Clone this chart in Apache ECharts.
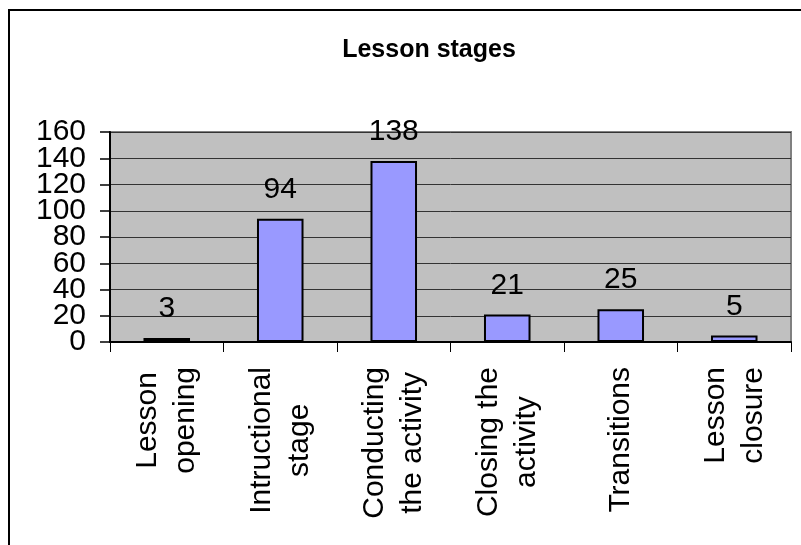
<!DOCTYPE html>
<html>
<head>
<meta charset="utf-8">
<script src="https://cdn.jsdelivr.net/npm/echarts@6/dist/echarts.min.js"></script>
<style>
html,body{margin:0;padding:0;background:#fff;}
#chart{width:801px;height:545px;}
</style>
</head>
<body>
<div id="chart"></div>
<script>
const titleText = 'Lesson stages';
const categories = ['Lesson\nopening', 'Intructional\nstage', 'Conducting\nthe activity', 'Closing the\nactivity', 'Transitions', 'Lesson\nclosure'];
const values = [3, 94, 138, 21, 25, 5];
const yMin = 0, yMax = 160, yStep = 20;

const FONT = 'Liberation Sans, Arial, sans-serif';
const PLOT = {left: 110, top: 132, right: 10, bottom: 203};
const STEP_PX = (545 - PLOT.top - PLOT.bottom) / ((yMax - yMin) / yStep);

const chart = echarts.init(document.getElementById('chart'), null, {renderer: 'canvas'});
chart.setOption({
  animation: false,
  backgroundColor: '#fff',
  title: {
    text: titleText,
    left: 424,
    top: 33,
    textAlign: 'center',
    textStyle: {fontFamily: FONT, fontSize: 25, fontWeight: 'bold', color: '#000'}
  },
  graphic: [{
    type: 'rect',
    shape: {x: 9, y: 10, width: 820, height: 560},
    style: {fill: 'none', stroke: '#000', lineWidth: 2},
    silent: true,
    z: 100
  }],
  grid: [{
    left: PLOT.left, top: PLOT.top, right: PLOT.right, bottom: PLOT.bottom,
    show: true,
    backgroundColor: '#c0c0c0',
    borderColor: '#808080',
    borderWidth: 2,
    containLabel: false,
    outerBoundsMode: 'none'
  }, {
    // helper grid, one step taller at each end, carries the odd y labels
    left: PLOT.left, top: PLOT.top - STEP_PX, right: PLOT.right, bottom: PLOT.bottom - STEP_PX,
    show: false,
    containLabel: false,
    outerBoundsMode: 'none'
  }],
  xAxis: [{
    type: 'category',
    gridIndex: 0,
    data: categories,
    boundaryGap: true,
    axisLine: {show: true, lineStyle: {color: '#000', width: 2}},
    axisTick: {show: true, length: 10, alignWithLabel: false, lineStyle: {color: '#000', width: 1}},
    axisLabel: {
      interval: 0,
      rotate: 90,
      margin: 25,
      fontFamily: FONT,
      fontSize: 30,
      color: '#000',
      formatter: function (v) {
        return v.split('\n').map(function (s) { return '{c|' + s + '}'; }).join('\n');
      },
      rich: {
        c: {align: 'center', fontFamily: FONT, fontSize: 30, lineHeight: 38, color: '#000'}
      }
    },
    splitLine: {show: false}
  }, {
    type: 'category',
    gridIndex: 1,
    data: categories,
    show: false
  }],
  yAxis: [{
    type: 'value',
    gridIndex: 0,
    min: yMin, max: yMax, interval: yStep * 2,
    axisLine: {show: true, onZero: false, lineStyle: {color: '#000', width: 2}},
    axisTick: {show: true, inside: false, length: 10, lineStyle: {color: '#000', width: 1.5}},
    minorTick: {show: true, splitNumber: 2, length: 10, lineStyle: {color: '#000', width: 1.5}},
    axisLabel: {margin: 24, fontFamily: FONT, fontSize: 30, color: '#000', showMinLabel: true, showMaxLabel: true},
    splitLine: {show: true, lineStyle: {color: '#333', width: 1}},
    minorSplitLine: {show: true, lineStyle: {color: '#333', width: 1}}
  }, {
    type: 'value',
    gridIndex: 1,
    min: yMin - yStep, max: yMax + yStep, interval: yStep * 2,
    axisLine: {show: false},
    axisTick: {show: false},
    splitLine: {show: false},
    axisLabel: {
      margin: 24, fontFamily: FONT, fontSize: 30, color: '#000', showMinLabel: true, showMaxLabel: true,
      formatter: function (v) { return (v >= yMin && v <= yMax) ? String(v) : ''; }
    }
  }],
  series: [{
    type: 'bar',
    xAxisIndex: 0, yAxisIndex: 0,
    data: values,
    barWidth: '41%',
    itemStyle: {color: '#9999ff', borderColor: '#000', borderWidth: 2},
    label: {
      show: true,
      position: 'top',
      distance: 14,
      fontFamily: FONT,
      fontSize: 30,
      color: '#000'
    }
  }]
});
</script>
</body>
</html>
